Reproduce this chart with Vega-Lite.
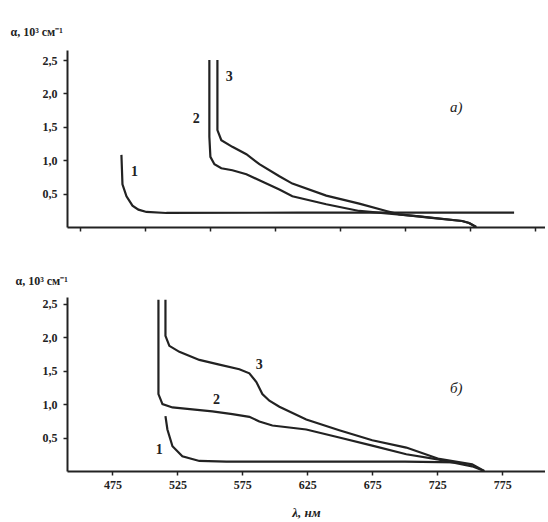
{
  "$schema": "https://vega.github.io/schema/vega-lite/v6.json",
  "background": "white",
  "padding": {"left": 10, "top": 25, "right": 0, "bottom": 0},
  "spacing": 42,
  "config": {
    "view": {"stroke": null},
    "font": "Liberation Serif",
    "axis": {
      "grid": false,
      "domainColor": "#222",
      "domainWidth": 2,
      "tickColor": "#222",
      "tickWidth": 1.5,
      "tickSize": 4,
      "labelPadding": 6,
      "labelFont": "Liberation Serif",
      "labelFontWeight": "bold",
      "labelFontSize": 12,
      "labelColor": "#222",
      "titleFont": "Liberation Serif",
      "titleFontWeight": "bold",
      "titleFontSize": 12,
      "titleColor": "#222"
    }
  },
  "datasets": {
    "curves": [
      {"panel": "a", "curve": "1", "i": 1, "lambda": 481.9, "alpha": 1.08},
      {"panel": "a", "curve": "1", "i": 2, "lambda": 482.3, "alpha": 0.86},
      {"panel": "a", "curve": "1", "i": 3, "lambda": 482.7, "alpha": 0.64},
      {"panel": "a", "curve": "1", "i": 4, "lambda": 485.8, "alpha": 0.46},
      {"panel": "a", "curve": "1", "i": 5, "lambda": 490.4, "alpha": 0.32},
      {"panel": "a", "curve": "1", "i": 6, "lambda": 495.0, "alpha": 0.26},
      {"panel": "a", "curve": "1", "i": 7, "lambda": 501.2, "alpha": 0.225},
      {"panel": "a", "curve": "1", "i": 8, "lambda": 516.5, "alpha": 0.21},
      {"panel": "a", "curve": "1", "i": 9, "lambda": 618.8, "alpha": 0.215},
      {"panel": "a", "curve": "1", "i": 10, "lambda": 695.8, "alpha": 0.215},
      {"panel": "a", "curve": "1", "i": 11, "lambda": 784.2, "alpha": 0.215},

      {"panel": "a", "curve": "2", "i": 1, "lambda": 549.6, "alpha": 2.5},
      {"panel": "a", "curve": "2", "i": 2, "lambda": 549.6, "alpha": 1.35},
      {"panel": "a", "curve": "2", "i": 3, "lambda": 550.4, "alpha": 1.05},
      {"panel": "a", "curve": "2", "i": 4, "lambda": 553.5, "alpha": 0.94},
      {"panel": "a", "curve": "2", "i": 5, "lambda": 558.8, "alpha": 0.88},
      {"panel": "a", "curve": "2", "i": 6, "lambda": 567.3, "alpha": 0.85},
      {"panel": "a", "curve": "2", "i": 7, "lambda": 578.1, "alpha": 0.79},
      {"panel": "a", "curve": "2", "i": 8, "lambda": 588.1, "alpha": 0.7},
      {"panel": "a", "curve": "2", "i": 9, "lambda": 603.5, "alpha": 0.56},
      {"panel": "a", "curve": "2", "i": 10, "lambda": 613.5, "alpha": 0.46},
      {"panel": "a", "curve": "2", "i": 11, "lambda": 639.6, "alpha": 0.34},
      {"panel": "a", "curve": "2", "i": 12, "lambda": 665.0, "alpha": 0.24},
      {"panel": "a", "curve": "2", "i": 13, "lambda": 688.1, "alpha": 0.2},
      {"panel": "a", "curve": "2", "i": 14, "lambda": 711.2, "alpha": 0.16},
      {"panel": "a", "curve": "2", "i": 15, "lambda": 744.2, "alpha": 0.09},
      {"panel": "a", "curve": "2", "i": 16, "lambda": 749.6, "alpha": 0.06},
      {"panel": "a", "curve": "2", "i": 17, "lambda": 755.0, "alpha": 0.0},

      {"panel": "a", "curve": "3", "i": 1, "lambda": 555.8, "alpha": 2.5},
      {"panel": "a", "curve": "3", "i": 2, "lambda": 555.8, "alpha": 1.45},
      {"panel": "a", "curve": "3", "i": 3, "lambda": 558.8, "alpha": 1.3},
      {"panel": "a", "curve": "3", "i": 4, "lambda": 567.3, "alpha": 1.2},
      {"panel": "a", "curve": "3", "i": 5, "lambda": 578.1, "alpha": 1.09},
      {"panel": "a", "curve": "3", "i": 6, "lambda": 588.1, "alpha": 0.94},
      {"panel": "a", "curve": "3", "i": 7, "lambda": 603.5, "alpha": 0.76},
      {"panel": "a", "curve": "3", "i": 8, "lambda": 613.5, "alpha": 0.65},
      {"panel": "a", "curve": "3", "i": 9, "lambda": 639.6, "alpha": 0.47},
      {"panel": "a", "curve": "3", "i": 10, "lambda": 665.0, "alpha": 0.35},
      {"panel": "a", "curve": "3", "i": 11, "lambda": 685.8, "alpha": 0.24},
      {"panel": "a", "curve": "3", "i": 12, "lambda": 695.8, "alpha": 0.19},
      {"panel": "a", "curve": "3", "i": 13, "lambda": 718.8, "alpha": 0.14},
      {"panel": "a", "curve": "3", "i": 14, "lambda": 744.2, "alpha": 0.09},
      {"panel": "a", "curve": "3", "i": 15, "lambda": 749.6, "alpha": 0.06},
      {"panel": "a", "curve": "3", "i": 16, "lambda": 755.0, "alpha": 0.0},

      {"panel": "b", "curve": "1", "i": 1, "lambda": 515.8, "alpha": 0.82},
      {"panel": "b", "curve": "1", "i": 2, "lambda": 517.3, "alpha": 0.62},
      {"panel": "b", "curve": "1", "i": 3, "lambda": 521.2, "alpha": 0.37},
      {"panel": "b", "curve": "1", "i": 4, "lambda": 528.8, "alpha": 0.22},
      {"panel": "b", "curve": "1", "i": 5, "lambda": 541.9, "alpha": 0.15},
      {"panel": "b", "curve": "1", "i": 6, "lambda": 562.7, "alpha": 0.14},
      {"panel": "b", "curve": "1", "i": 7, "lambda": 618.8, "alpha": 0.14},
      {"panel": "b", "curve": "1", "i": 8, "lambda": 700.0, "alpha": 0.14},
      {"panel": "b", "curve": "1", "i": 9, "lambda": 740.0, "alpha": 0.13},

      {"panel": "b", "curve": "2", "i": 1, "lambda": 510.4, "alpha": 2.56},
      {"panel": "b", "curve": "2", "i": 2, "lambda": 510.4, "alpha": 1.15},
      {"panel": "b", "curve": "2", "i": 3, "lambda": 513.5, "alpha": 1.0},
      {"panel": "b", "curve": "2", "i": 4, "lambda": 521.2, "alpha": 0.95},
      {"panel": "b", "curve": "2", "i": 5, "lambda": 536.5, "alpha": 0.92},
      {"panel": "b", "curve": "2", "i": 6, "lambda": 551.9, "alpha": 0.89},
      {"panel": "b", "curve": "2", "i": 7, "lambda": 567.3, "alpha": 0.85},
      {"panel": "b", "curve": "2", "i": 8, "lambda": 580.4, "alpha": 0.81},
      {"panel": "b", "curve": "2", "i": 9, "lambda": 588.1, "alpha": 0.74},
      {"panel": "b", "curve": "2", "i": 10, "lambda": 598.1, "alpha": 0.68},
      {"panel": "b", "curve": "2", "i": 11, "lambda": 624.2, "alpha": 0.62},
      {"panel": "b", "curve": "2", "i": 12, "lambda": 649.6, "alpha": 0.5},
      {"panel": "b", "curve": "2", "i": 13, "lambda": 675.0, "alpha": 0.38},
      {"panel": "b", "curve": "2", "i": 14, "lambda": 701.2, "alpha": 0.25},
      {"panel": "b", "curve": "2", "i": 15, "lambda": 726.5, "alpha": 0.17},
      {"panel": "b", "curve": "2", "i": 16, "lambda": 751.9, "alpha": 0.07},
      {"panel": "b", "curve": "2", "i": 17, "lambda": 761.2, "alpha": 0.0},

      {"panel": "b", "curve": "3", "i": 1, "lambda": 515.8, "alpha": 2.56},
      {"panel": "b", "curve": "3", "i": 2, "lambda": 515.8, "alpha": 2.02},
      {"panel": "b", "curve": "3", "i": 3, "lambda": 518.8, "alpha": 1.87},
      {"panel": "b", "curve": "3", "i": 4, "lambda": 526.5, "alpha": 1.78},
      {"panel": "b", "curve": "3", "i": 5, "lambda": 541.9, "alpha": 1.66},
      {"panel": "b", "curve": "3", "i": 6, "lambda": 557.3, "alpha": 1.59},
      {"panel": "b", "curve": "3", "i": 7, "lambda": 572.7, "alpha": 1.52},
      {"panel": "b", "curve": "3", "i": 8, "lambda": 580.4, "alpha": 1.46},
      {"panel": "b", "curve": "3", "i": 9, "lambda": 585.8, "alpha": 1.33},
      {"panel": "b", "curve": "3", "i": 10, "lambda": 590.4, "alpha": 1.15},
      {"panel": "b", "curve": "3", "i": 11, "lambda": 595.8, "alpha": 1.05},
      {"panel": "b", "curve": "3", "i": 12, "lambda": 603.5, "alpha": 0.96},
      {"panel": "b", "curve": "3", "i": 13, "lambda": 624.2, "alpha": 0.77},
      {"panel": "b", "curve": "3", "i": 14, "lambda": 649.6, "alpha": 0.61},
      {"panel": "b", "curve": "3", "i": 15, "lambda": 675.0, "alpha": 0.46},
      {"panel": "b", "curve": "3", "i": 16, "lambda": 701.2, "alpha": 0.35},
      {"panel": "b", "curve": "3", "i": 17, "lambda": 726.5, "alpha": 0.18},
      {"panel": "b", "curve": "3", "i": 18, "lambda": 751.9, "alpha": 0.1},
      {"panel": "b", "curve": "3", "i": 19, "lambda": 761.2, "alpha": 0.0}
    ],
    "labels": [
      {"panel": "a", "kind": "curve", "text": "1", "lambda": 492, "alpha": 0.82},
      {"panel": "a", "kind": "curve", "text": "2", "lambda": 539.6, "alpha": 1.62},
      {"panel": "a", "kind": "curve", "text": "3", "lambda": 565, "alpha": 2.25},
      {"panel": "a", "kind": "panel", "text": "а)", "lambda": 739.6, "alpha": 1.8},
      {"panel": "b", "kind": "curve", "text": "1", "lambda": 511, "alpha": 0.31},
      {"panel": "b", "kind": "curve", "text": "2", "lambda": 555, "alpha": 1.06},
      {"panel": "b", "kind": "curve", "text": "3", "lambda": 588, "alpha": 1.58},
      {"panel": "b", "kind": "panel", "text": "б)", "lambda": 739.6, "alpha": 1.24}
    ]
  },
  "vconcat": [
    {
      "width": 478,
      "height": 177,
      "layer": [
        {
          "data": {"name": "curves"},
          "transform": [{"filter": "datum.panel == 'a'"}],
          "mark": {"type": "line", "color": "#222", "strokeWidth": 2.2},
          "encoding": {
            "x": {"field": "lambda", "type": "quantitative",
              "scale": {"domain": [440, 808], "nice": false, "zero": false},
              "axis": {"values": [450, 475, 500, 525, 550, 575, 600, 625, 650, 675, 700, 725, 750, 775, 800], "labels": false, "title": null}},
            "y": {"field": "alpha", "type": "quantitative",
              "scale": {"domain": [0, 2.65], "nice": false},
              "axis": {"values": [0.5, 1, 1.5, 2, 2.5],
                "labelExpr": "replace(format(datum.value, '.1f'), '.', ',')",
                "title": "α, 10³ см⁻¹", "titleAngle": 0, "titleAlign": "left", "titleBaseline": "bottom",
                "titleX": -57, "titleY": -12}},
            "detail": {"field": "curve"},
            "order": {"field": "i"}
          }
        },
        {
          "data": {"name": "labels"},
          "transform": [{"filter": "datum.panel == 'a' && datum.kind == 'curve'"}],
          "mark": {"type": "text", "fontSize": 14, "fontWeight": "bold", "color": "#222"},
          "encoding": {
            "x": {"field": "lambda", "type": "quantitative"},
            "y": {"field": "alpha", "type": "quantitative"},
            "text": {"field": "text"}
          }
        },
        {
          "data": {"name": "labels"},
          "transform": [{"filter": "datum.panel == 'a' && datum.kind == 'panel'"}],
          "mark": {"type": "text", "fontSize": 15, "fontStyle": "italic", "color": "#222"},
          "encoding": {
            "x": {"field": "lambda", "type": "quantitative"},
            "y": {"field": "alpha", "type": "quantitative"},
            "text": {"field": "text"}
          }
        }
      ]
    },
    {
      "width": 478,
      "height": 174,
      "layer": [
        {
          "data": {"name": "curves"},
          "transform": [{"filter": "datum.panel == 'b'"}],
          "mark": {"type": "line", "color": "#222", "strokeWidth": 2.2},
          "encoding": {
            "x": {"field": "lambda", "type": "quantitative",
              "scale": {"domain": [440, 808], "nice": false, "zero": false},
              "axis": {"values": [475, 525, 575, 625, 675, 725, 775],
                "format": "d",
                "labels": true,
                "labelPadding": 4,
                "title": "λ, нм", "titleFontStyle": "italic", "titleFontSize": 13, "titlePadding": 16}},
            "y": {"field": "alpha", "type": "quantitative",
              "scale": {"domain": [0, 2.6], "nice": false},
              "axis": {"values": [0.5, 1, 1.5, 2, 2.5],
                "labelExpr": "replace(format(datum.value, '.1f'), '.', ',')",
                "title": "α, 10³ см⁻¹", "titleAngle": 0, "titleAlign": "left", "titleBaseline": "bottom",
                "titleX": -52, "titleY": -10}},
            "detail": {"field": "curve"},
            "order": {"field": "i"}
          }
        },
        {
          "data": {"name": "labels"},
          "transform": [{"filter": "datum.panel == 'b' && datum.kind == 'curve'"}],
          "mark": {"type": "text", "fontSize": 14, "fontWeight": "bold", "color": "#222"},
          "encoding": {
            "x": {"field": "lambda", "type": "quantitative"},
            "y": {"field": "alpha", "type": "quantitative"},
            "text": {"field": "text"}
          }
        },
        {
          "data": {"name": "labels"},
          "transform": [{"filter": "datum.panel == 'b' && datum.kind == 'panel'"}],
          "mark": {"type": "text", "fontSize": 15, "fontStyle": "italic", "color": "#222"},
          "encoding": {
            "x": {"field": "lambda", "type": "quantitative"},
            "y": {"field": "alpha", "type": "quantitative"},
            "text": {"field": "text"}
          }
        }
      ]
    }
  ]
}
